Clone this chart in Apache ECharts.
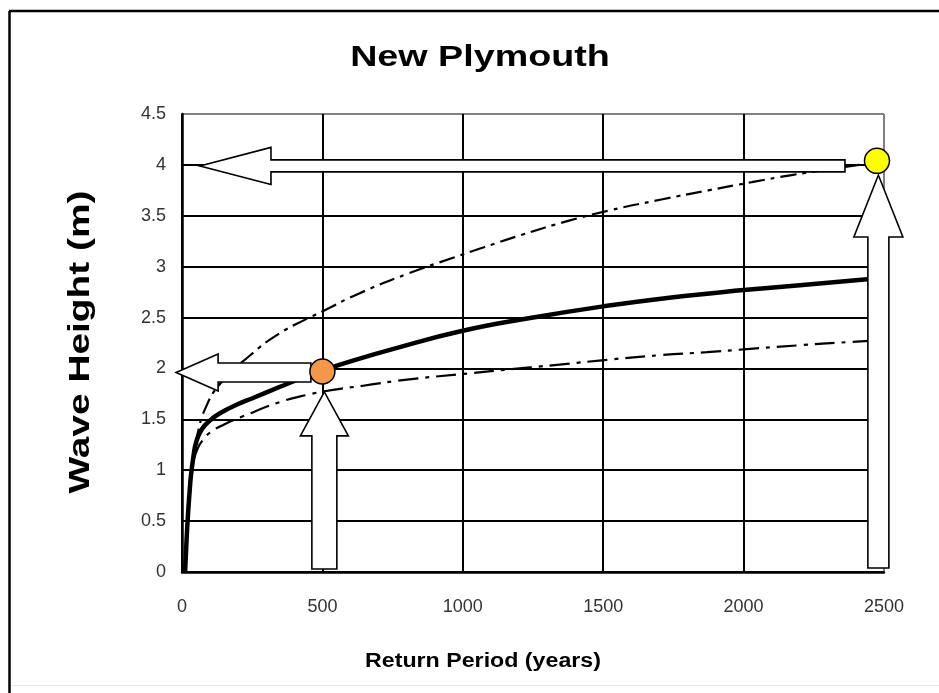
<!DOCTYPE html>
<html>
<head>
<meta charset="utf-8">
<script src="https://cdn.jsdelivr.net/npm/echarts@6/dist/echarts.min.js"></script>
<style>html,body{margin:0;padding:0;background:#fff}#c{width:939px;height:693px}</style>
</head>
<body>
<div id="c"></div>
<script>
// ---- data ----
const xTicks = [0, 500, 1000, 1500, 2000, 2500];
const yTicks = [0, 0.5, 1, 1.5, 2, 2.5, 3, 3.5, 4, 4.5];

const periodsCentral = [11, 16, 21, 26, 32, 40, 50, 70, 100, 135, 200, 253, 349, 430, 500, 600, 750, 1000, 1250, 1500, 1750, 2000, 2250, 2500];
const heightCentral  = [0, 0.3, 0.55, 0.75, 0.95, 1.12, 1.27, 1.4, 1.49, 1.56, 1.65, 1.71, 1.82, 1.91, 1.98, 2.07, 2.19, 2.37, 2.5, 2.61, 2.7, 2.77, 2.83, 2.89];

const periodsUpper = [11, 16, 21, 26, 32, 40, 55, 82, 136, 243, 339, 446, 500, 625, 803, 968, 1075, 1207, 1375, 1518, 1707, 1875, 2029, 2171, 2411, 2475];
const heightUpper  = [0, 0.3, 0.55, 0.75, 0.95, 1.13, 1.35, 1.6, 1.85, 2.13, 2.33, 2.49, 2.56, 2.73, 2.93, 3.09, 3.19, 3.31, 3.45, 3.55, 3.66, 3.75, 3.83, 3.9, 4.0, 4.03];

const periodsLower = [11, 16, 21, 26, 32, 40, 57, 75, 100, 150, 217, 349, 445, 538, 645, 801, 979, 1239, 1371, 1513, 1702, 1869, 2012, 2211, 2379, 2500];
const heightLower  = [0, 0.3, 0.55, 0.75, 0.94, 1.08, 1.22, 1.3, 1.37, 1.45, 1.53, 1.67, 1.74, 1.79, 1.83, 1.89, 1.94, 2.01, 2.045, 2.085, 2.13, 2.16, 2.19, 2.23, 2.26, 2.28];

const markerPeriods = [500, 2475];
const markerHeights = [1.97, 4.04];

const arrowTailPeriods = [459, 507, 2361, 2480];
const arrowTailHeights = [1.96, 0.03, 3.99, 0.04];
const arrowTipPeriods  = [-21, 507, 64, 2480];
const arrowTipHeights  = [1.96, 1.77, 3.99, 3.90];

// ---- styles ----
const markerColors = ['#F5974A', '#FFFF00'];
const arrowShaftHalf = [9.5, 12.5, 6, 10.5];
const arrowHeadHalf  = [18.5, 24, 18.5, 24.5];
const arrowHeadLen   = [42, 44, 71, 62];

const zip = (a, b) => a.map((v, i) => [v, b[i]]);

const chart = echarts.init(document.getElementById('c'), null, {renderer: 'canvas'});

const ySplitColors = yTicks.map((v, i) => i === yTicks.length - 1 ? '#808080' : '#000');
const xSplitColors = xTicks.map((v, i) => i === xTicks.length - 1 ? '#808080' : '#000');

const option = {
  animation: false,
  backgroundColor: '#fff',
  grid: {left: 182, right: 55, top: 114, bottom: 121, containLabel: false},
  xAxis: {
    type: 'value', min: xTicks[0], max: xTicks[xTicks.length - 1], interval: 500,
    axisLine: {show: true, lineStyle: {color: '#000', width: 2.5}},
    axisTick: {show: false},
    axisLabel: {margin: 26, fontSize: 18, color: '#333', fontFamily: '"Liberation Sans", Arial', formatter: v => String(v)},
    splitLine: {show: true, lineStyle: {color: xSplitColors, width: 2}}
  },
  yAxis: {
    type: 'value', min: yTicks[0], max: yTicks[yTicks.length - 1], interval: 0.5,
    axisLine: {show: true, lineStyle: {color: '#000', width: 2.5}},
    axisTick: {show: false},
    axisLabel: {margin: 16, fontSize: 18, color: '#333', fontFamily: '"Liberation Sans", Arial', formatter: v => String(v)},
    splitLine: {show: true, lineStyle: {color: ySplitColors, width: 2}}
  },
  graphic: [
    {type: 'line', shape: {x1: 9.5, y1: 11, x2: 9.5, y2: 693}, style: {stroke: '#000', lineWidth: 2.5}},
    {type: 'line', shape: {x1: 9, y1: 11, x2: 939, y2: 11}, style: {stroke: '#000', lineWidth: 2.5}},
    {type: 'line', shape: {x1: 11, y1: 685.5, x2: 939, y2: 685.5}, style: {stroke: '#e6e6e6', lineWidth: 1}},
    {type: 'text', x: 480, y: 58, scaleX: 1.3, style: {text: 'New Plymouth', font: 'bold 29px "Liberation Sans", Arial', fill: '#000', textAlign: 'center', textVerticalAlign: 'middle'}},
    {type: 'text', x: 483, y: 661, scaleX: 1.16, style: {text: 'Return Period (years)', font: 'bold 20px "Liberation Sans", Arial', fill: '#000', textAlign: 'center', textVerticalAlign: 'middle'}},
    {type: 'text', x: 81, y: 342, rotation: Math.PI / 2, scaleX: 1.34, style: {text: 'Wave Height (m)', font: 'bold 29px "Liberation Sans", Arial', fill: '#000', textAlign: 'center', textVerticalAlign: 'middle'}}
  ],
  series: [
    {type: 'line', name: 'Central', data: zip(periodsCentral, heightCentral), showSymbol: false, smooth: 0.5,
     lineStyle: {color: '#000', width: 4.5}, z: 3},
    {type: 'line', name: 'Upper', data: zip(periodsUpper, heightUpper), showSymbol: false, smooth: 0.5,
     lineStyle: {color: '#000', width: 2.2, type: [16, 6, 4, 6]}, z: 3},
    {type: 'line', name: 'Lower', data: zip(periodsLower, heightLower), showSymbol: false, smooth: 0.5,
     lineStyle: {color: '#000', width: 2.2, type: [20, 7, 4, 7]}, z: 3},
    {type: 'custom', name: 'Arrows', z: 5, clip: false,
     data: arrowTailPeriods.map((t, i) => [t, arrowTailHeights[i], arrowTipPeriods[i], arrowTipHeights[i]]),
     encode: {x: [0, 2], y: [1, 3]},
     renderItem: function (params, api) {
       const i = params.dataIndex;
       const p0 = api.coord([api.value(0), api.value(1)]);
       const p1 = api.coord([api.value(2), api.value(3)]);
       const dx = p1[0] - p0[0], dy = p1[1] - p0[1];
       const L = Math.sqrt(dx * dx + dy * dy);
       const ux = dx / L, uy = dy / L, nx = -uy, ny = ux;
       const s = arrowShaftHalf[i], h = arrowHeadHalf[i], hl = arrowHeadLen[i];
       const bx = p1[0] - ux * hl, by = p1[1] - uy * hl;
       const pts = [
         [p0[0] + nx * s, p0[1] + ny * s],
         [bx + nx * s, by + ny * s],
         [bx + nx * h, by + ny * h],
         [p1[0], p1[1]],
         [bx - nx * h, by - ny * h],
         [bx - nx * s, by - ny * s],
         [p0[0] - nx * s, p0[1] - ny * s]
       ];
       return {type: 'polygon', shape: {points: pts}, style: {fill: '#fff', stroke: '#000', lineWidth: 1.6}};
     }
    },
    {type: 'scatter', name: 'Points', z: 6, symbol: 'circle', symbolSize: 25,
     data: markerPeriods.map((t, i) => ({value: [t, markerHeights[i]], itemStyle: {color: markerColors[i]}})),
     itemStyle: {borderColor: '#000', borderWidth: 1.5, opacity: 1}}
  ]
};
chart.setOption(option);
</script>
</body>
</html>
